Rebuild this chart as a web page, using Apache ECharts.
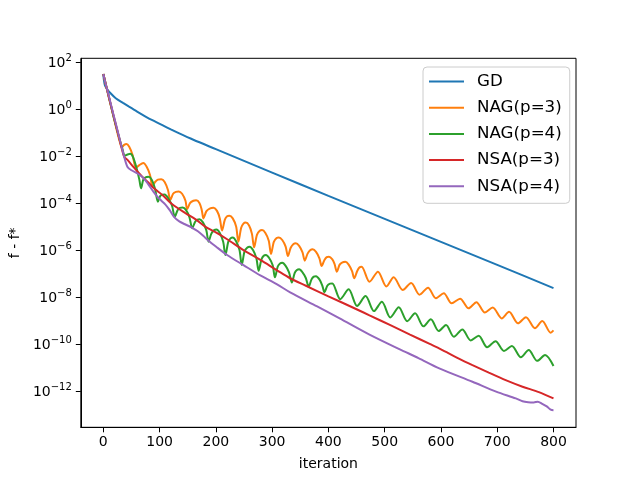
<!DOCTYPE html>
<html>
<head>
<meta charset="utf-8">
<title>f - f*</title>
<script src="https://cdn.jsdelivr.net/npm/echarts@6.0.0/dist/echarts.min.js"></script>
<style>
  html, body { margin: 0; padding: 0; background: #fff; }
  #chart { width: 640px; height: 480px; }
</style>
</head>
<body>
<div id="chart"></div>
<script>
// 数据：[iteration, log10(f - f*)]
var xTicks = [0, 100, 200, 300, 400, 500, 600, 700, 800];
var yTicks = [-12, -10, -8, -6, -4, -2, 0, 2]; // 10 的指数
var names = ['GD', 'NAG(p=3)', 'NAG(p=4)', 'NSA(p=3)', 'NSA(p=4)'];
var colors = ['#1f77b4', '#ff7f0e', '#2ca02c', '#d62728', '#9467bd'];

var gd = [[0,1.5],[1,1.25],[3,1.0],[7,0.85],[12,0.7],[22,0.47],[35,0.27],[45,0.12],[60,-0.1],[75,-0.31],
  [90,-0.5],[105,-0.68],[120,-0.86],[134,-1.02],[160,-1.3],[200,-1.7],[300,-2.7],[400,-3.69],[500,-4.67],
  [600,-5.65],[700,-6.63],[800,-7.62]];

var nag3 = [[0,1.5],[4,1.1],[10,0.5],[19,-0.4],[26,-1.1],[30,-1.45],[33,-1.62],[37,-1.52],[41,-1.48],[46,-1.6],
  [52,-1.95],[58,-2.5],[64,-2.38],[71,-2.29],[77,-2.45],[83,-2.8],[87,-3.27],[92,-3.1],[97,-3.0],[103,-2.98],
  [109,-3.1],[115,-3.45],[119,-3.87],[124,-3.6],[129,-3.52],[134,-3.5],[140,-3.6],[146,-3.9],[149,-4.26],
  [154,-4.0],[160,-3.9],[165,-3.88],[171,-4.0],[175,-4.3],[178,-4.65],[183,-4.35],[189,-4.23],[196,-4.2],
  [202,-4.33],[207,-4.65],[211,-5.17],[216,-4.7],[220,-4.56],[224,-4.54],[230,-4.65],[236,-5.0],[240,-5.64],
  [245,-5.05],[249,-4.87],[253,-4.83],[259,-4.95],[264,-5.3],[268,-5.88],[273,-5.35],[278,-5.18],[282,-5.15],
  [288,-5.27],[294,-5.6],[298,-6.17],[303,-5.65],[308,-5.49],[312,-5.46],[318,-5.57],[324,-5.85],[328,-6.25],
  [333,-5.9],[338,-5.74],[342,-5.71],[348,-5.82],[354,-6.1],[358,-6.45],[363,-6.15],[368,-6.0],[372,-5.97],
  [378,-6.08],[384,-6.35],[388,-6.68],[393,-6.42],[397,-6.3],[401,-6.28],[407,-6.4],[411,-6.6],[415,-6.92],
  [420,-6.62],[425,-6.52],[430,-6.5],[436,-6.62],[442,-6.9],[446,-7.2],[451,-6.9],[455,-6.74],[459,-6.71],
  [473,-7.35],[488,-6.92],[503,-7.55],[516,-7.16],[532,-7.7],[547,-7.4],[562,-7.9],[577,-7.6],[591,-8.05],
  [605,-7.84],[619,-8.27],[634,-8.07],[649,-8.48],[663,-8.22],[678,-8.66],[692,-8.45],[708,-8.91],[721,-8.63],
  [737,-9.12],[751,-8.86],[767,-9.33],[780,-9.02],[795,-9.52],[800,-9.42]];

var nag4 = [[0,1.5],[4,1.1],[10,0.5],[19,-0.4],[28,-1.2],[34,-1.7],[38,-1.98],[43,-1.93],[48,-1.9],[53,-2.05],
  [59,-2.5],[64,-3.0],[67,-3.37],[71,-3.0],[75,-2.9],[80,-2.88],[86,-3.0],[92,-3.4],[97,-3.94],[101,-3.7],
  [105,-3.64],[109,-3.63],[115,-3.78],[122,-4.1],[127,-4.58],[132,-4.3],[136,-4.2],[141,-4.19],[147,-4.3],
  [153,-4.6],[158,-5.07],[163,-4.8],[167,-4.7],[171,-4.69],[177,-4.82],[183,-5.15],[187,-5.64],[192,-5.3],
  [197,-5.15],[201,-5.12],[207,-5.27],[213,-5.65],[217,-6.21],[222,-5.65],[226,-5.5],[230,-5.46],[236,-5.62],
  [242,-6.0],[246,-6.64],[251,-6.05],[256,-5.89],[260,-5.86],[266,-6.0],[272,-6.35],[276,-6.88],[281,-6.4],
  [285,-6.24],[289,-6.21],[295,-6.35],[301,-6.65],[305,-7.16],[310,-6.7],[314,-6.57],[318,-6.54],[324,-6.67],
  [330,-6.95],[335,-7.38],[340,-6.98],[344,-6.85],[348,-6.82],[354,-6.95],[360,-7.2],[365,-7.56],[370,-7.25],
  [374,-7.13],[378,-7.11],[384,-7.25],[389,-7.5],[393,-7.8],[398,-7.52],[403,-7.43],[407,-7.42],[421,-8.09],
  [436,-7.67],[451,-8.38],[466,-7.96],[481,-8.6],[495,-8.2],[510,-8.87],[525,-8.44],[540,-9.03],[554,-8.69],
  [569,-9.25],[582,-8.95],[596,-9.45],[609,-9.19],[623,-9.69],[638,-9.38],[653,-9.85],[667,-9.65],[682,-10.14],
  [697,-9.88],[712,-10.3],[726,-10.09],[742,-10.57],[756,-10.26],[771,-10.72],[785,-10.47],[800,-10.94]];

var nsa3 = [[0,1.5],[4,1.1],[10,0.5],[19,-0.35],[28,-1.2],[37,-2.02],[43,-2.16],[55,-2.5],[69,-2.87],[80,-3.12],
  [90,-3.37],[105,-3.65],[122,-4.04],[146,-4.43],[164,-4.69],[181,-5.0],[200,-5.25],[220,-5.54],[249,-6.0],
  [279,-6.42],[308,-6.85],[332,-7.2],[360,-7.52],[400,-7.97],[450,-8.52],[473,-8.78],[512,-9.22],[545,-9.6],
  [580,-10.0],[600,-10.23],[630,-10.6],[656,-10.9],[685,-11.22],[715,-11.54],[745,-11.82],[774,-12.05],[800,-12.32]];

var nsa4 = [[0,1.5],[4,1.1],[10,0.55],[16,-0.03],[22,-0.6],[28,-1.17],[37,-2.02],[43,-2.46],[50,-2.6],[63,-2.77],
  [72,-2.95],[80,-3.2],[89,-3.51],[95,-3.7],[102,-3.87],[110,-4.05],[118,-4.3],[126,-4.6],[135,-4.78],[145,-4.9],
  [158,-5.05],[168,-5.2],[178,-5.4],[187,-5.6],[200,-5.85],[220,-6.21],[249,-6.64],[279,-7.08],[308,-7.45],
  [332,-7.8],[380,-8.4],[420,-8.91],[473,-9.6],[527,-10.23],[560,-10.6],[597,-11.04],[656,-11.61],[698,-12.03],
  [733,-12.32],[745,-12.44],[755,-12.48],[765,-12.49],[772,-12.46],[780,-12.55],[788,-12.66],[795,-12.8],[800,-12.82]];

var allData = [gd, nag3, nag4, nsa3, nsa4];

var chart = echarts.init(document.getElementById('chart'), null, { renderer: 'canvas' });

var series = [];
for (var i = 0; i < names.length; i++) {
  series.push({
    name: names[i],
    type: 'line',
    data: allData[i],
    showSymbol: false,
    smooth: 0.3,
    clip: true,
    lineStyle: { color: colors[i], width: 2 },
    itemStyle: { color: colors[i] }
  });
}

var font = 'DejaVu Sans';

var option = {
  animation: false,
  backgroundColor: '#fff',
  textStyle: { fontFamily: font },
  grid: {
    left: 80.7, right: 64, top: 58.3, bottom: 52.7,
    show: true, borderColor: '#000', borderWidth: 1, backgroundColor: 'transparent'
  },
  legend: {
    orient: 'vertical',
    left: 423, top: 67,
    padding: [5.5, 8, 8, 6],
    itemGap: 8.2,
    itemWidth: 35, itemHeight: 2,
    icon: 'rect',
    backgroundColor: 'rgba(255,255,255,0.8)',
    borderColor: '#cccccc', borderWidth: 1, borderRadius: 4,
    textStyle: { fontSize: 16.7, lineHeight: 18, color: '#000', fontFamily: font, padding: [0, 0, 0, 8] },
    data: names
  },
  xAxis: {
    type: 'value',
    min: -40, max: 840,
    name: 'iteration',
    nameLocation: 'middle',
    nameGap: 30,
    nameTextStyle: { fontSize: 14, color: '#000', fontFamily: font },
    axisLine: { show: true, onZero: false, lineStyle: { color: '#000', width: 1 } },
    axisTick: { show: true, customValues: xTicks, length: 5, lineStyle: { color: '#000', width: 1 } },
    axisLabel: { customValues: xTicks, margin: 8, fontSize: 14, color: '#000', fontFamily: font },
    splitLine: { show: false }
  },
  yAxis: {
    type: 'value',
    min: -13.55, max: 2.17,
    name: 'f - f*',
    nameLocation: 'middle',
    nameGap: 57,
    nameRotate: 90,
    nameTextStyle: { fontSize: 14, color: '#000', fontFamily: font },
    axisLine: { show: true, onZero: false, lineStyle: { color: '#000', width: 1 } },
    axisTick: { show: true, customValues: yTicks, length: 5, lineStyle: { color: '#000', width: 1 } },
    axisLabel: {
      customValues: yTicks,
      margin: 9,
      color: '#000',
      formatter: function (v) {
        var s = (v < 0 ? '\u2212' : '') + Math.abs(v);
        return '{b|10}{s|' + s + '}';
      },
      rich: {
        b: { fontSize: 14, lineHeight: 17, verticalAlign: 'bottom', fontFamily: font, color: '#000' },
        s: { fontSize: 10, lineHeight: 10, verticalAlign: 'top', fontFamily: font, color: '#000' }
      }
    },
    splitLine: { show: false }
  },
  series: series
};

chart.setOption(option);
</script>
</body>
</html>
